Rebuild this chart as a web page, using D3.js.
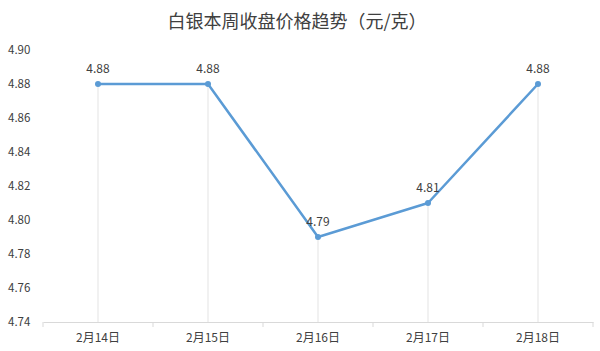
<!DOCTYPE html>
<html lang="zh">
<head>
<meta charset="UTF-8">
<title>白银本周收盘价格趋势</title>
<style>
  body { margin: 0; background: #fff; }
  svg { display: block; font-family: "Noto Sans CJK SC", "Open Sans", sans-serif; }
</style>
</head>
<body>
<svg width="600" height="351"></svg>
<script src="https://d3js.org/d3.v7.min.js"></script>
<script>
const days = ["2月14日", "2月15日", "2月16日", "2月17日", "2月18日"]
const prices = [4.88, 4.88, 4.79, 4.81, 4.88]
const yTicks = [4.74, 4.76, 4.78, 4.80, 4.82, 4.84, 4.86, 4.88, 4.90]

const svg = d3.select('svg')
const plotL = 43, plotR = 593, plotT = 50, plotB = 322

const x = d3.scaleBand().domain(days).range([plotL, plotR])
const y = d3.scaleLinear().domain([4.74, 4.90]).range([plotB, plotT])
const cx = d => x(d) + x.bandwidth() / 2

svg.append('text')
  .attr('x', 297).attr('y', 28)
  .attr('text-anchor', 'middle')
  .attr('font-size', 18)
  .attr('fill', '#404040')
  .text('白银本周收盘价格趋势（元/克）')

// y labels
svg.selectAll('.ylab')
  .data(yTicks).enter()
  .append('text')
    .attr('x', 8)
    .attr('y', d => y(d) + 4)
    .attr('font-size', 11.5)
    .attr('fill', '#404040')
    .text(d => d.toFixed(2))

// drop lines
svg.selectAll('.drop')
  .data(days).enter()
  .append('line')
    .attr('x1', cx).attr('x2', cx)
    .attr('y1', (d, i) => y(prices[i]))
    .attr('y2', plotB)
    .attr('stroke', '#e3e3e3')
    .attr('stroke-width', 1)

// x axis
const xAxis = d3.axisBottom(x).tickSize(0).tickPadding(11)
const gx = svg.append('g').attr('transform', `translate(0,${plotB})`).call(xAxis)
gx.select('.domain').attr('stroke', '#d9d9d9')
gx.selectAll('text').attr('font-size', 12).attr('fill', '#404040')
  .attr('font-family', '"Noto Sans CJK SC", sans-serif')
gx.selectAll('.sep')
  .data(d3.range(days.length + 1)).enter()
  .append('line')
    .attr('x1', i => plotL + i * x.bandwidth())
    .attr('x2', i => plotL + i * x.bandwidth())
    .attr('y1', 0).attr('y2', 5)
    .attr('stroke', '#d9d9d9')

// line
const line = d3.line()
  .x((d, i) => cx(days[i]))
  .y(d => y(d))
svg.append('path')
  .datum(prices)
  .attr('d', line)
  .attr('fill', 'none')
  .attr('stroke', '#5b9bd5')
  .attr('stroke-width', 2.5)
  .attr('stroke-linejoin', 'round')

svg.selectAll('.dot')
  .data(prices).enter()
  .append('circle')
    .attr('cx', (d, i) => cx(days[i]))
    .attr('cy', d => y(d))
    .attr('r', 3)
    .attr('fill', '#5b9bd5')

svg.selectAll('.val')
  .data(prices).enter()
  .append('text')
    .attr('x', (d, i) => cx(days[i]))
    .attr('y', d => y(d) - 11)
    .attr('text-anchor', 'middle')
    .attr('font-size', 12)
    .attr('fill', '#404040')
    .text(d => d.toFixed(2))
</script>
</body>
</html>
